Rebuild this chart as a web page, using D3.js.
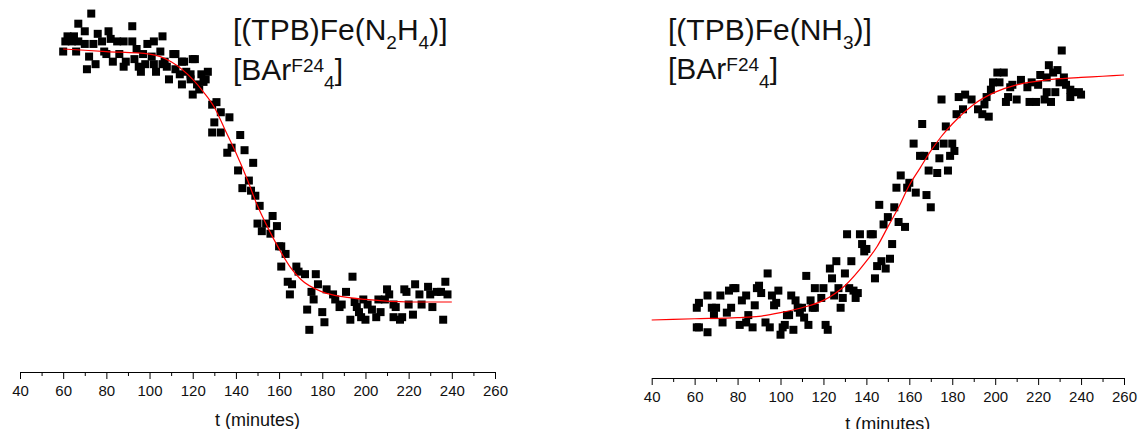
<!DOCTYPE html>
<html>
<head>
<meta charset="utf-8">
<script src="https://cdn.jsdelivr.net/npm/d3@7"></script>
<style>
  html, body { margin: 0; padding: 0; background: #fff; }
  svg { display: block; }
</style>
</head>
<body>
<svg></svg>
<script>
/* global d3:true */

// axis ticks (minutes)
const majorTicks = [40, 60, 80, 100, 120, 140, 160, 180, 200, 220, 240, 260]
const minorTicks = [50, 70, 90, 110, 130, 150, 170, 190, 210, 230, 250]

// [(TPB)Fe(N2H4)][BArF24 4] : [t (min), normalised signal]
const hydrazinePoints = [
  [60, 0.99], [61, 1.03], [62, 1.05], [64, 1.03], [65, 1.05], [66, 0.99], [67, 1.10], [67, 1.03],
  [70, 1.07], [70, 1.02], [71, 0.92], [72, 0.97], [73, 1.14], [74, 1.02], [75, 0.94], [76, 1.06],
  [78, 1.03], [79, 0.99], [80, 0.98], [81, 1.07], [82, 1.04], [83, 0.95], [85, 1.03], [86, 0.98],
  [88, 1.03], [88, 0.93], [89, 0.95], [92, 1.09], [92, 1.03], [93, 0.96], [94, 1.00], [95, 0.93],
  [96, 0.91], [97, 0.98], [98, 0.94], [99, 1.02], [101, 0.97], [102, 1.03], [102, 0.94], [103, 0.91],
  [105, 0.99], [106, 1.05], [106, 0.94], [107, 0.95], [108, 0.93], [109, 0.88], [111, 0.98], [112, 0.98],
  [112, 0.92], [114, 0.90], [115, 0.86], [115, 0.95], [116, 0.95], [117, 0.91], [119, 0.88], [119, 0.90],
  [120, 0.82], [120, 0.96], [121, 0.96], [122, 0.86], [123, 0.84], [124, 0.90], [125, 0.87], [126, 0.88],
  [127, 0.91], [129, 0.78], [129, 0.67], [130, 0.71], [131, 0.79], [133, 0.75], [133, 0.67], [136, 0.59],
  [137, 0.73], [138, 0.61], [141, 0.52], [142, 0.66], [143, 0.45], [144, 0.60], [146, 0.48], [147, 0.44],
  [148, 0.55], [149, 0.42], [150, 0.31], [151, 0.38], [152, 0.28], [154, 0.31], [156, 0.27], [157, 0.34],
  [159, 0.30], [160, 0.22], [161, 0.22], [161, 0.14], [163, 0.19], [164, 0.08], [165, 0.03], [166, 0.07],
  [168, 0.14], [169, 0.12], [172, 0.11], [173, -0.03], [174, -0.11], [175, 0.04], [176, 0.01], [177, 0.11],
  [178, 0.07], [180, -0.04], [181, -0.08], [182, 0.05], [185, 0.03], [186, 0.01], [188, -0.02], [189, -0.01],
  [191, 0.04], [193, -0.07], [194, 0.10], [195, 0.00], [196, -0.02], [197, -0.04], [198, -0.06], [199, 0.01],
  [200, -0.07], [201, -0.01], [203, -0.03], [205, -0.06], [206, 0.01], [207, -0.04], [209, 0.01], [210, 0.05],
  [211, 0.03], [213, -0.01], [213, -0.06], [214, -0.02], [216, -0.07], [217, -0.06], [218, 0.05], [219, 0.04],
  [220, -0.01], [222, -0.05], [223, 0.07], [225, 0.03], [226, -0.01], [229, 0.06], [230, 0.03], [231, -0.02],
  [233, 0.04], [235, 0.04], [236, -0.07], [237, 0.08], [238, 0.03]
]

// sigmoid fit
const hydrazineFit = [
  [60, 1.00], [80, 0.99], [100, 0.98], [110, 0.95], [120, 0.88], [125, 0.83], [130, 0.77], [135, 0.68],
  [140, 0.59], [145, 0.49], [150, 0.38], [155, 0.29], [160, 0.21], [165, 0.14], [170, 0.09], [180, 0.04],
  [190, 0.02], [200, 0.01], [220, 0.00], [240, 0.00]
]

// [(TPB)Fe(NH3)][BArF24 4]
const ammoniaPoints = [
  [61, 0.05], [61, -0.03], [62, 0.07], [62, -0.03], [66, 0.10], [66, -0.05], [68, 0.05], [69, 0.02],
  [70, 0.05], [72, 0.10], [73, -0.01], [75, 0.03], [76, 0.12], [77, 0.05], [78, 0.13], [79, 0.13],
  [81, -0.02], [82, 0.08], [84, 0.10], [84, -0.01], [85, 0.02], [87, -0.03], [88, 0.06], [89, 0.13],
  [90, 0.14], [91, 0.11], [93, -0.01], [94, 0.19], [95, -0.03], [96, 0.10], [97, 0.06], [98, 0.07],
  [99, 0.12], [100, -0.06], [101, -0.03], [102, -0.02], [103, 0.02], [104, 0.02], [105, 0.10], [106, -0.04],
  [107, 0.08], [108, 0.05], [109, 0.03], [110, 0.05], [111, 0.01], [112, 0.18], [113, -0.02], [114, 0.08],
  [115, 0.05], [116, 0.05], [116, 0.13], [119, 0.09], [120, 0.13], [121, -0.02], [122, -0.04], [123, 0.21],
  [124, 0.17], [125, 0.10], [126, 0.24], [127, 0.13], [128, 0.05], [129, 0.09], [130, 0.19], [131, 0.35],
  [132, 0.13], [133, 0.24], [134, 0.12], [135, 0.09], [136, 0.11], [137, 0.35], [138, 0.31], [139, 0.28],
  [140, 0.29], [142, 0.35], [143, 0.35], [144, 0.17], [145, 0.22], [146, 0.47], [147, 0.24], [148, 0.39],
  [149, 0.21], [150, 0.42], [151, 0.25], [152, 0.31], [153, 0.46], [154, 0.54], [155, 0.40], [156, 0.59],
  [158, 0.38], [159, 0.54], [160, 0.56], [162, 0.72], [163, 0.52], [165, 0.67], [166, 0.80], [167, 0.67],
  [168, 0.51], [169, 0.61], [170, 0.46], [172, 0.71], [173, 0.60], [174, 0.66], [175, 0.90], [176, 0.72],
  [177, 0.79], [178, 0.61], [179, 0.67], [180, 0.72], [181, 0.69], [182, 0.84], [183, 0.91], [185, 0.86],
  [186, 0.92], [189, 0.90], [192, 0.86], [194, 0.84], [195, 0.88], [196, 0.91], [197, 0.83], [198, 0.94],
  [199, 0.97], [201, 1.01], [202, 0.97], [204, 1.01], [205, 0.89], [206, 0.91], [207, 0.95], [208, 0.96],
  [210, 0.90], [212, 0.98], [215, 0.95], [216, 0.89], [217, 0.97], [219, 0.89], [220, 0.96], [221, 1.00],
  [223, 0.90], [224, 0.93], [224, 0.99], [225, 1.04], [226, 0.89], [227, 1.01], [228, 0.93], [229, 1.02],
  [230, 0.97], [231, 1.10], [232, 0.99], [233, 0.96], [235, 0.94], [235, 0.91], [236, 0.93], [239, 0.93],
  [240, 0.92]
]

const ammoniaFit = [
  [40, 0.00], [60, 0.005], [80, 0.01], [90, 0.015], [100, 0.03], [110, 0.05], [120, 0.08], [130, 0.14],
  [140, 0.24], [145, 0.30], [150, 0.38], [155, 0.46], [160, 0.55], [165, 0.62], [170, 0.69], [175, 0.75],
  [180, 0.80], [190, 0.88], [200, 0.93], [210, 0.96], [220, 0.975], [230, 0.985], [240, 0.99], [250, 0.995],
  [260, 1.00]
]

// title pieces: [text, 'sub' | 'sup' | '']
const hydrazineTitle = [
  [['[(TPB)Fe(N', ''], ['2', 'sub'], ['H', ''], ['4', 'sub'], [')]', '']],
  [['[BAr', ''], ['F24', 'sup'], ['4', 'sub'], [']', '']]
]
const ammoniaTitle = [
  [['[(TPB)Fe(NH', ''], ['3', 'sub'], [')]', '']],
  [['[BAr', ''], ['F24', 'sup'], ['4', 'sub'], [']', '']]
]

const w = 1141
const h = 429
const font = "'Liberation Sans', Arial, Helvetica, sans-serif"

const svg = d3.select('svg')
  .attr('width', w)
  .attr('height', h)
  .style('font-family', font)

const drawPanel = (p) => {
  const xScale = d3.scaleLinear().domain([40, 260]).range(p.xRange)
  const yScale = d3.scaleLinear().domain([0, 1]).range(p.yRange)

  // title with sub/superscripts
  p.title.forEach((line, i) => {
    const text = svg.append('text')
      .attr('x', p.titleX)
      .attr('y', p.titleY[i])
      .style('font-size', '30px')
      .attr('fill', '#111')
    let shift = 0
    line.forEach(([str, kind]) => {
      const target = kind === 'sub' ? 9 : kind === 'sup' ? -8 : 0
      text.append('tspan')
        .attr('dy', target - shift)
        .style('font-size', kind ? '19px' : '30px')
        .text(str)
      shift = target
    })
  })

  // data squares
  svg.append('g')
    .selectAll('rect')
    .data(p.points)
    .enter()
    .append('rect')
    .attr('x', d => xScale(d[0]) - 4)
    .attr('y', d => yScale(d[1]) - 4)
    .attr('width', 8)
    .attr('height', 8)
    .attr('fill', '#000')

  // fit
  const line = d3.line()
    .x(d => xScale(d[0]))
    .y(d => yScale(d[1]))
    .curve(d3.curveMonotoneX)

  svg.append('path')
    .datum(p.fit)
    .attr('d', line)
    .attr('fill', 'none')
    .attr('stroke', '#ff0000')
    .attr('stroke-width', 1.2)

  // x axis, major + minor ticks
  const major = svg.append('g')
    .attr('transform', `translate(0, ${p.axisY})`)
    .call(d3.axisBottom(xScale).tickValues(majorTicks).tickSize(7).tickPadding(6).tickSizeOuter(0))
  major.attr('font-family', font).attr('font-size', 15)
  major.selectAll('text').attr('fill', '#111')

  svg.append('g')
    .attr('transform', `translate(0, ${p.axisY})`)
    .call(d3.axisBottom(xScale).tickValues(minorTicks).tickSize(4).tickFormat('').tickSizeOuter(0))
    .select('.domain').remove()

  svg.append('text')
    .attr('text-anchor', 'middle')
    .attr('x', (p.xRange[0] + p.xRange[1]) / 2)
    .attr('y', p.labelY)
    .style('font-size', '18px')
    .attr('fill', '#111')
    .text('t (minutes)')
}

drawPanel({
  xRange: [20, 495],
  yRange: [302, 49],
  axisY: 372,
  labelY: 426,
  points: hydrazinePoints,
  fit: hydrazineFit,
  title: hydrazineTitle,
  titleX: 233,
  titleY: [40, 80]
})

drawPanel({
  xRange: [651.7, 1124],
  yRange: [320, 75],
  axisY: 378,
  labelY: 430,
  points: ammoniaPoints,
  fit: ammoniaFit,
  title: ammoniaTitle,
  titleX: 668,
  titleY: [40, 79]
})
</script>
</body>
</html>
